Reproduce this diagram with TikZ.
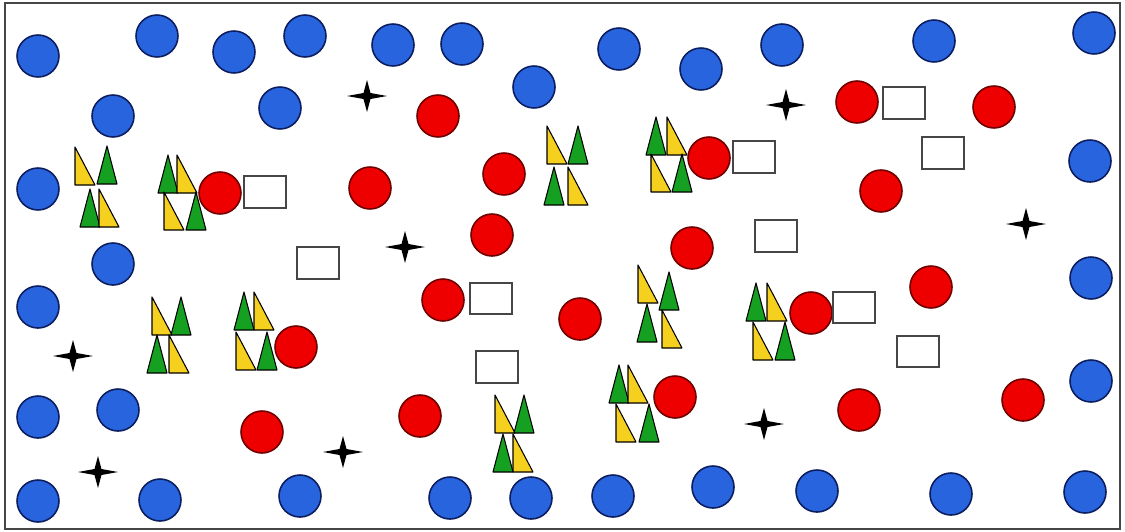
\documentclass[tikz,border=0pt]{standalone}
\usepackage{xcolor}
\usepackage{tikz}

\definecolor{dotblue}{RGB}{40,100,222}
\definecolor{dotblueedge}{RGB}{12,30,95}
\definecolor{dotred}{RGB}{238,0,0}
\definecolor{dotrededge}{RGB}{110,0,0}
\definecolor{triyellow}{RGB}{246,208,30}
\definecolor{trigreen}{RGB}{22,160,34}
\definecolor{boxedge}{RGB}{70,70,70}

\begin{document}
\begin{tikzpicture}[x=0.02cm,y=-0.02cm,
    bluedot/.style={fill=dotblue,draw=dotblueedge,line width=0.9pt},
    reddot/.style={fill=dotred,draw=dotrededge,line width=0.9pt},
    emptybox/.style={fill=white,draw=boxedge,line width=0.8pt},
    ytri/.pic={\draw[fill=triyellow,line width=0.6pt,line join=round] (0,0) -- (0,-38) -- (20,0) -- cycle;},
    gtri/.pic={\draw[fill=trigreen,line width=0.6pt,line join=round] (0,0) -- (10,-38) -- (20,0) -- cycle;},
    spark/.pic={\fill (-20,0) -- (-3.5,-3) -- (0,-16) -- (3.5,-3) -- (20,0) -- (3.5,3) -- (0,16) -- (-3.5,3) -- cycle;}]
    \useasboundingbox (0,0) rectangle (1125,531);

    % frame
    \draw[line width=1pt,draw=boxedge] (5,3) rectangle (1120,529);

    % blue dots along the edges
    \path[bluedot] (38,56) circle (21) (157,36) circle (21) (234,52) circle (21)
        (305,36) circle (21) (393,45) circle (21) (462,44) circle (21)
        (619,49) circle (21) (782,45) circle (21) (934,41) circle (21)
        (1094,33) circle (21);
    \path[bluedot] (113,116) circle (21) (280,108) circle (21) (534,87) circle (21)
        (701,69) circle (21);
    \path[bluedot] (38,189) circle (21) (1090,161) circle (21) (113,264) circle (21)
        (1091,278) circle (21) (38,307) circle (21) (1091,381) circle (21)
        (38,417) circle (21) (118,410) circle (21);
    \path[bluedot] (38,501) circle (21) (160,500) circle (21) (300,496) circle (21)
        (450,498) circle (21) (531,498) circle (21) (613,496) circle (21)
        (713,487) circle (21) (817,491) circle (21) (951,494) circle (21)
        (1085,492) circle (21);

    % red dots
    \path[reddot] (438,116) circle (21) (857,102) circle (21) (994,107) circle (21)
        (220,193) circle (21) (370,188) circle (21) (504,174) circle (21)
        (709,158) circle (21) (881,191) circle (21) (492,235) circle (21)
        (692,248) circle (21);
    \path[reddot] (443,300) circle (21) (580,319) circle (21) (931,287) circle (21)
        (811,313) circle (21) (296,347) circle (21) (675,397) circle (21)
        (420,416) circle (21) (262,432) circle (21) (859,410) circle (21)
        (1023,400) circle (21);

    % empty boxes
    \draw[emptybox] (883,87) rectangle (925,119);
    \draw[emptybox] (733,141) rectangle (775,173);
    \draw[emptybox] (922,137) rectangle (964,169);
    \draw[emptybox] (244,176) rectangle (286,208);
    \draw[emptybox] (297,247) rectangle (339,279);
    \draw[emptybox] (470,283) rectangle (512,314);
    \draw[emptybox] (755,220) rectangle (797,252);
    \draw[emptybox] (833,292) rectangle (875,323);
    \draw[emptybox] (897,336) rectangle (939,367);
    \draw[emptybox] (476,351) rectangle (518,383);

    % triangle groups
    \pic at (75,185) {ytri}; \pic at (97,184) {gtri};
    \pic at (80,227) {gtri}; \pic at (99,227) {ytri};

    \pic at (158,193) {gtri}; \pic at (177,193) {ytri};
    \pic at (164,230) {ytri}; \pic at (186,230) {gtri};

    \pic at (547,164) {ytri}; \pic at (568,164) {gtri};
    \pic at (544,205) {gtri}; \pic at (568,205) {ytri};

    \pic at (646,155) {gtri}; \pic at (667,155) {ytri};
    \pic at (651,192) {ytri}; \pic at (672,192) {gtri};

    \pic at (152,335) {ytri}; \pic at (171,335) {gtri};
    \pic at (147,373) {gtri}; \pic at (169,373) {ytri};

    \pic at (234,330) {gtri}; \pic at (254,330) {ytri};
    \pic at (236,370) {ytri}; \pic at (257,370) {gtri};

    \pic at (495,433) {ytri}; \pic at (514,433) {gtri};
    \pic at (493,472) {gtri}; \pic at (513,472) {ytri};

    \pic at (638,303) {ytri}; \pic at (659,310) {gtri};
    \pic at (637,342) {gtri}; \pic at (662,348) {ytri};

    \pic at (609,403) {gtri}; \pic at (628,403) {ytri};
    \pic at (616,442) {ytri}; \pic at (639,442) {gtri};

    \pic at (746,321) {gtri}; \pic at (767,321) {ytri};
    \pic at (753,360) {ytri}; \pic at (775,360) {gtri};

    % sparks
    \pic at (367,96) {spark};
    \pic at (786,105) {spark};
    \pic at (405,247) {spark};
    \pic at (1026,224) {spark};
    \pic at (73,356) {spark};
    \pic at (343,452) {spark};
    \pic at (764,424) {spark};
    \pic at (98,472) {spark};
\end{tikzpicture}
\end{document}
